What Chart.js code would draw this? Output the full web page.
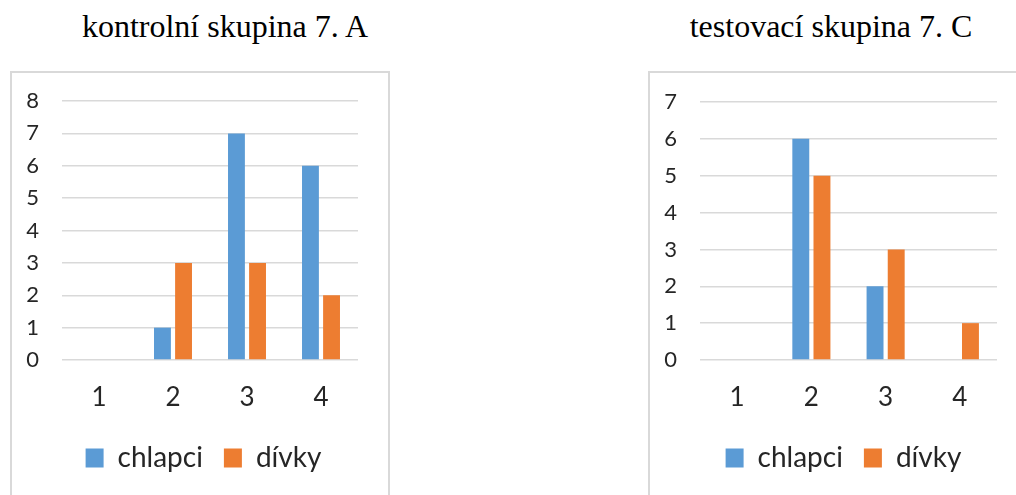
<!DOCTYPE html>
<html>
<head>
<meta charset="utf-8">
<script src="https://cdn.jsdelivr.net/npm/chart.js@4/dist/chart.umd.min.js"></script>
<style>
  html, body { margin: 0; padding: 0; width: 1016px; height: 495px; overflow: hidden; background: #fff; }
  .title { position: absolute; top: 10px; font-family: "Liberation Serif", "Times New Roman", serif; font-size: 32px; line-height: 32px; color: #000; white-space: nowrap; text-align: center; width: 400px; }
  .box { position: absolute; top: 71px; height: 460px; border: 2px solid #D9D9D9; box-sizing: border-box; }
  .cv { position: absolute; top: 73px; }
</style>
</head>
<body>
<div class="title" style="left:25px;">kontrolní skupina 7. A</div>
<div class="title" style="left:631px;">testovací skupina 7. C</div>
<div class="box" style="left:10px; width:380px;"></div>
<div class="box" style="left:648px; width:400px;"></div>
<div class="cv" style="left:11px; width:377px; height:422px;"><canvas id="c1"></canvas></div>
<div class="cv" style="left:650px; width:366px; height:422px;"><canvas id="c2"></canvas></div>
<script>
const categories = ['1', '2', '3', '4'];
const seriesNames = ['chlapci', 'dívky'];
const leftBoys = [0, 1, 7, 6];
const leftGirls = [0, 3, 3, 2];
const rightBoys = [0, 6, 2, 0];
const rightGirls = [0, 5, 3, 1];
const leftYMax = 8;
const rightYMax = 7;

const BLUE = '#5B9BD5';
const ORANGE = '#ED7D31';
const GRID = '#D9D9D9';
const FONT = 'Lato, Carlito, Calibri, sans-serif';

function makeChart(id, boys, girls, ymax, pad, yWidth, legendShift) {
  return new Chart(document.getElementById(id), {
    type: 'bar',
    data: {
      labels: categories,
      datasets: [
        { label: seriesNames[0], data: boys, backgroundColor: BLUE, categoryPercentage: 0.57, barPercentage: 0.8 },
        { label: seriesNames[1], data: girls, backgroundColor: ORANGE, categoryPercentage: 0.57, barPercentage: 0.8 }
      ]
    },
    plugins: [{
      id: 'legendShift',
      afterLayout(chart) {
        if (chart.legend) { chart.legend.left += legendShift; chart.legend.right += legendShift; }
      }
    }],
    options: {
      responsive: true,
      maintainAspectRatio: false,
      animation: false,
      events: [],
      layout: { padding: pad, autoPadding: false },
      plugins: {
        title: { display: false },
        tooltip: { enabled: false },
        legend: {
          display: true,
          position: 'bottom',
          labels: {
            font: { family: FONT, size: 28 },
            color: '#262626',
            boxWidth: 18,
            boxHeight: 19,
            padding: 21
          }
        }
      },
      scales: {
        x: {
          grid: { display: false, drawTicks: false },
          border: { display: false },
          ticks: { font: { family: FONT, size: 26 }, color: '#262626', padding: 22 },
          afterFit: (s) => { s.height = 63; }
        },
        y: {
          min: 0,
          max: ymax,
          grid: { color: GRID, lineWidth: 1.5, drawTicks: false },
          border: { display: false },
          ticks: { stepSize: 1, font: { family: FONT, size: 22 }, color: '#262626', padding: 23 },
          afterFit: (s) => { s.width = yWidth; s.paddingTop = 0; s.paddingBottom = 0; }
        }
      }
    }
  });
}

makeChart('c1', leftBoys, leftGirls, leftYMax, { left: 0, right: 30, top: 28, bottom: 13 }, 51, 19);
makeChart('c2', rightBoys, rightGirls, rightYMax, { left: 0, right: 19, top: 29, bottom: 13 }, 50, 20);
</script>
</body>
</html>
